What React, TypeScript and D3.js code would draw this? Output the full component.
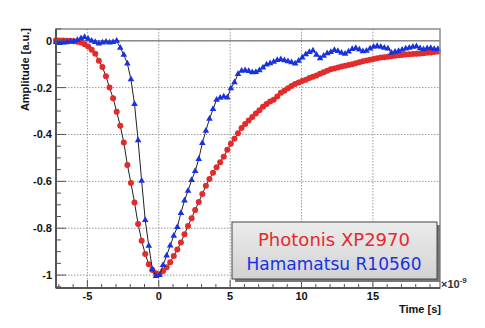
import React from 'react';
import * as d3 from 'd3';

// sampling of both traces (ns)
const T0 = -7.2;
const DT = 0.25;

// Photonis XP2970, normalised amplitude
const photonis = [
  0.002, 0.001, 0.001, 0.0, 0.0, -0.002, -0.004, -0.008, -0.015, -0.025,
  -0.038, -0.056, -0.085, -0.112, -0.152, -0.2, -0.245, -0.303, -0.363, -0.434,
  -0.53, -0.607, -0.69, -0.782, -0.853, -0.91, -0.954, -0.978, -0.992, -0.996,
  -0.983, -0.966, -0.945, -0.919, -0.891, -0.861, -0.826, -0.79, -0.757, -0.722,
  -0.688, -0.654, -0.619, -0.59, -0.563, -0.54, -0.518, -0.495, -0.465, -0.44,
  -0.418, -0.395, -0.372, -0.355, -0.34, -0.325, -0.311, -0.297, -0.282, -0.27,
  -0.259, -0.252, -0.238, -0.222, -0.213, -0.203, -0.193, -0.185, -0.178, -0.172,
  -0.166, -0.159, -0.154, -0.148, -0.141, -0.134, -0.128, -0.122, -0.118, -0.114,
  -0.11, -0.107, -0.104, -0.1, -0.096, -0.092, -0.088, -0.084, -0.081, -0.078,
  -0.075, -0.072, -0.07, -0.068, -0.066, -0.064, -0.062, -0.061, -0.059, -0.058,
  -0.057, -0.056, -0.054, -0.053, -0.051, -0.05, -0.048, -0.046,
];

// Hamamatsu R10560, normalised amplitude
const hamamatsu = [
  -0.006, -0.01, -0.008, -0.007, -0.004, -0.003, 0.003, 0.01, 0.016, 0.008,
  0.0, -0.006, -0.012, -0.008, -0.005, -0.008, -0.006, 0.0, -0.03, -0.06,
  -0.098, -0.165, -0.27, -0.425, -0.598, -0.765, -0.875, -0.975, -1.004, -1.0,
  -0.957, -0.917, -0.874, -0.832, -0.795, -0.735, -0.682, -0.64, -0.595, -0.556,
  -0.505, -0.437, -0.384, -0.333, -0.292, -0.252, -0.244, -0.238, -0.243, -0.203,
  -0.178, -0.142, -0.128, -0.126, -0.13, -0.135, -0.134, -0.126, -0.115, -0.102,
  -0.096, -0.09, -0.083, -0.079, -0.084, -0.088, -0.092, -0.098, -0.086, -0.072,
  -0.058, -0.048, -0.042, -0.06, -0.075, -0.064, -0.054, -0.048, -0.04, -0.044,
  -0.052, -0.056, -0.046, -0.036, -0.031, -0.038, -0.045, -0.043, -0.034, -0.026,
  -0.023, -0.026, -0.03, -0.034, -0.052, -0.047, -0.044, -0.039, -0.034, -0.03,
  -0.026, -0.024, -0.032, -0.037, -0.032, -0.031, -0.036, -0.036,
];

const xTicks = [-5, 0, 5, 10, 15];
const xTickLabels = ['-5', '0', '5', '10', '15'];
const yTicks = [0, -0.2, -0.4, -0.6, -0.8, -1];
const yTickLabels = ['0', '-0.2', '-0.4', '-0.6', '-0.8', '-1'];
const legendLabels = ['Photonis XP2970', 'Hamamatsu R10560'];

const W = 485;
const H = 328;
const RED = '#e22b2b';
const BLUE = '#1733e0';

const App = () => {
  const x = d3.scaleLinear().domain([-7.2, 19.7]).range([56, 440]);
  const y = d3.scaleLinear().domain([0.05, -1.055]).range([29, 288]);
  const [x0, x1] = x.range();
  const [y0, y1] = y.range();

  const toPts = (vals: number[]) => vals.map((v, i) => [T0 + i * DT, v] as [number, number]);
  const red = toPts(photonis);
  const blue = toPts(hamamatsu);
  const line = d3.line<[number, number]>().x(d => x(d[0])).y(d => y(d[1]));
  const tri = d3.symbol().type(d3.symbolTriangle).size(19)() as string;

  const xMinor = d3.range(-7, 20, 1);
  const yMinor = d3.range(0.05, -1.06, -0.05);
  const font = '"Liberation Sans", Arial, Helvetica, sans-serif';

  return (
    <div style={{ position: 'fixed', left: 0, top: 0 }}>
      <svg width={W} height={H} style={{ display: 'block', background: '#fff' }}>
        <defs>
          <linearGradient id="legfill" x1="0" y1="0" x2="0" y2="1">
            <stop offset="0" stopColor="#ececec" />
            <stop offset="1" stopColor="#d2d2d2" />
          </linearGradient>
        </defs>

        {/* grid */}
        {xTicks.map(t => (
          <line key={'gx' + t} x1={x(t)} x2={x(t)} y1={y0} y2={y1}
            stroke="#9a9a9a" strokeWidth={1} strokeDasharray="1.5,1.5" />
        ))}
        {yTicks.map(t => (
          <line key={'gy' + t} x1={x0} x2={x1} y1={y(t)} y2={y(t)}
            stroke="#9a9a9a" strokeWidth={1} strokeDasharray="1.5,1.5" />
        ))}
        {/* zero line */}
        <line x1={x0} x2={x1} y1={y(0)} y2={y(0)} stroke="#8a8a8a" strokeWidth={1.5} />

        {/* traces */}
        <path d={line(red) as string} fill="none" stroke="#222" strokeWidth={1} />
        {red.map((d, i) => (
          <circle key={'r' + i} cx={x(d[0])} cy={y(d[1])} r={3} fill={RED} />
        ))}
        <path d={line(blue) as string} fill="none" stroke="#222" strokeWidth={1} />
        {blue.map((d, i) => (
          <path key={'b' + i} d={tri} transform={`translate(${x(d[0])},${y(d[1])})`} fill={BLUE} />
        ))}

        {/* frame */}
        <rect x={x0} y={y0} width={x1 - x0} height={y1 - y0} fill="none" stroke="#8c8c8c" strokeWidth={1.5} />
        <line x1={x0} x2={x0} y1={y0} y2={y1} stroke="#555" strokeWidth={2} />
        <line x1={x0} x2={x1} y1={y1} y2={y1} stroke="#555" strokeWidth={2} />

        {/* ticks */}
        {xMinor.map(t => (
          <line key={'tx' + t} x1={x(t)} x2={x(t)} y1={y1} y2={y1 - (t % 5 === 0 ? 8 : 4)}
            stroke="#555" strokeWidth={1} />
        ))}
        {yMinor.map((t, i) => (
          <line key={'ty' + i} x1={x0} x2={x0 + ((i + 3) % 4 === 0 ? 10 : 5)} y1={y(t)} y2={y(t)}
            stroke="#555" strokeWidth={1} />
        ))}

        {/* tick labels */}
        {xTicks.map((t, i) => (
          <text key={'lx' + t} x={x(t)} y={300} textAnchor="middle" fontFamily={font}
            fontWeight="bold" fontSize={11} fill="#111">{xTickLabels[i]}</text>
        ))}
        {yTicks.map((t, i) => (
          <text key={'ly' + t} x={52} y={y(t)} dy="0.36em" textAnchor="end" fontFamily={font}
            fontWeight="bold" fontSize={11} fill="#111">{yTickLabels[i]}</text>
        ))}

        {/* axis titles */}
        <text x={441} y={313} textAnchor="end" fontFamily={font} fontWeight="bold" fontSize={11} fill="#111">
          Time [s]
        </text>
        <text x={441} y={288} fontFamily={font} fontWeight="bold" fontSize={11} fill="#333">
          ×10<tspan dy={-5} fontSize={8}>-9</tspan>
        </text>
        <text transform="translate(29,28) rotate(-90)" textAnchor="end" fontFamily={font}
          fontWeight="bold" fontSize={11} fill="#111">
          Amplitude [a.u.]
        </text>

        {/* legend */}
        <rect x={235} y={225} width={205} height={57} fill="#777" />
        <rect x={232} y={222} width={205} height={57} fill="url(#legfill)" stroke="#444" strokeWidth={1} />
        <text x={334} y={246} textAnchor="middle" fontFamily='"DejaVu Sans", sans-serif' fontSize={17}
          fill={RED} textLength={152} lengthAdjust="spacingAndGlyphs">{legendLabels[0]}</text>
        <text x={334} y={269.5} textAnchor="middle" fontFamily='"DejaVu Sans", sans-serif' fontSize={17}
          fill={BLUE} textLength={175} lengthAdjust="spacingAndGlyphs">{legendLabels[1]}</text>
      </svg>
    </div>
  );
};

export default App;
